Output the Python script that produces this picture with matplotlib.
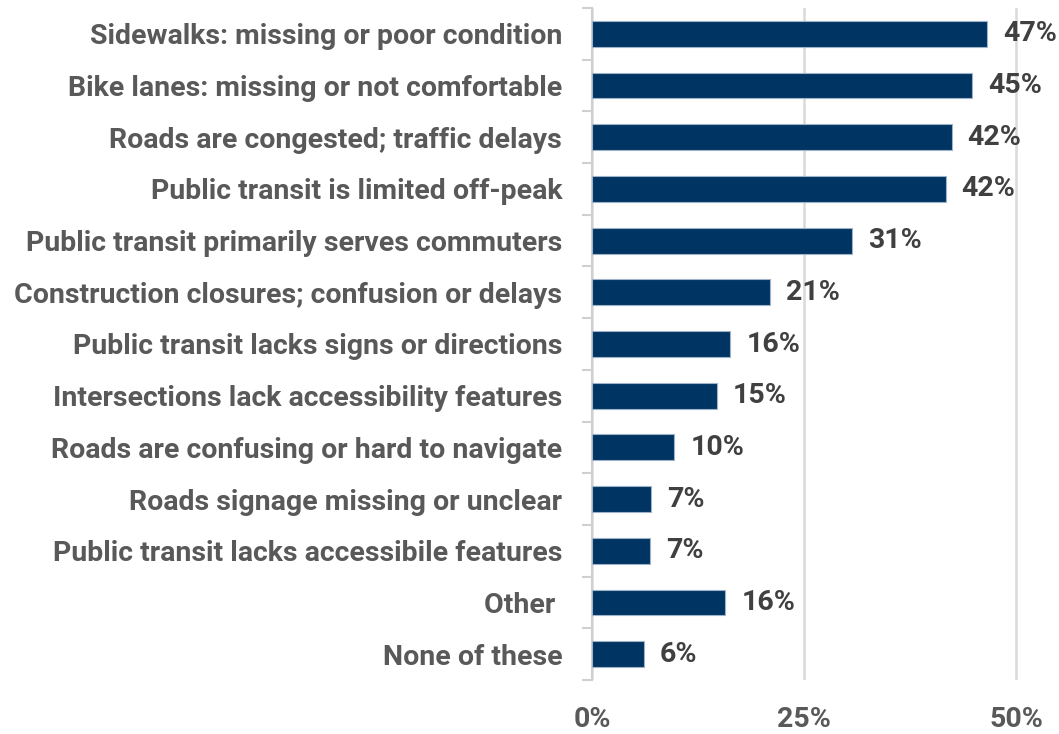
import matplotlib
matplotlib.use("Agg")
import matplotlib.pyplot as plt
from matplotlib.ticker import FixedLocator
import numpy as np

categories = [
    "Sidewalks: missing or poor condition",
    "Bike lanes: missing or not comfortable",
    "Roads are congested; traffic delays",
    "Public transit is limited off-peak",
    "Public transit primarily serves commuters",
    "Construction closures; confusion or delays",
    "Public transit lacks signs or directions",
    "Intersections lack accessibility features",
    "Roads are confusing or hard to navigate",
    "Roads signage missing or unclear",
    "Public transit lacks accessibile features",
    "Other ",
    "None of these",
]
values = [46.6, 44.8, 42.4, 41.7, 30.7, 21.0, 16.3, 14.7, 9.7, 7.0, 6.8, 15.7, 6.1]
x_ticks = [0, 25, 50]

plt.rcParams["font.family"] = ["Roboto", "DejaVu Sans"]
plt.rcParams["font.weight"] = "bold"

fig = plt.figure(figsize=(10.59, 7.34), dpi=100)
ax = fig.add_axes([592 / 1059, 1 - 680 / 734, 1 - 592 / 1059, (680 - 8) / 734])

y = np.arange(len(categories))
ax.barh(y, values, height=0.5, color="#003462", edgecolor="#9fb3c8", linewidth=0.8, zorder=3)
for yi, v in zip(y, values):
    ax.text(v + 1.9, yi, f"{v:.0f}%", va="center", ha="left", fontsize=20.5,
            fontweight="bold", color="#404040")

ax.set_ylim(len(categories) - 0.5, -0.5)
ax.set_xlim(0, (1059 - 592) / 8.48)
ax.set_yticks(y)
ax.set_yticklabels(categories, fontsize=20.5, fontweight="bold", color="#595959")
ax.tick_params(axis="y", which="major", length=0, pad=21.5)
ax.yaxis.set_minor_locator(FixedLocator(np.arange(-0.5, len(categories), 1)))
ax.tick_params(axis="y", which="minor", length=7, width=1.5, color="#d0d0d0")

ax.set_xticks(x_ticks)
ax.set_xticklabels([f"{t}%" for t in x_ticks], fontsize=20.5, fontweight="bold", color="#595959")
ax.tick_params(axis="x", length=0, pad=19)
ax.grid(axis="x", color="#d9d9d9", linewidth=1.8, zorder=0)

for s in ["top", "right", "bottom"]:
    ax.spines[s].set_visible(False)
ax.spines["left"].set_color("#d0d0d0")
ax.spines["left"].set_linewidth(1.5)

fig.savefig("out.png", dpi=100)
